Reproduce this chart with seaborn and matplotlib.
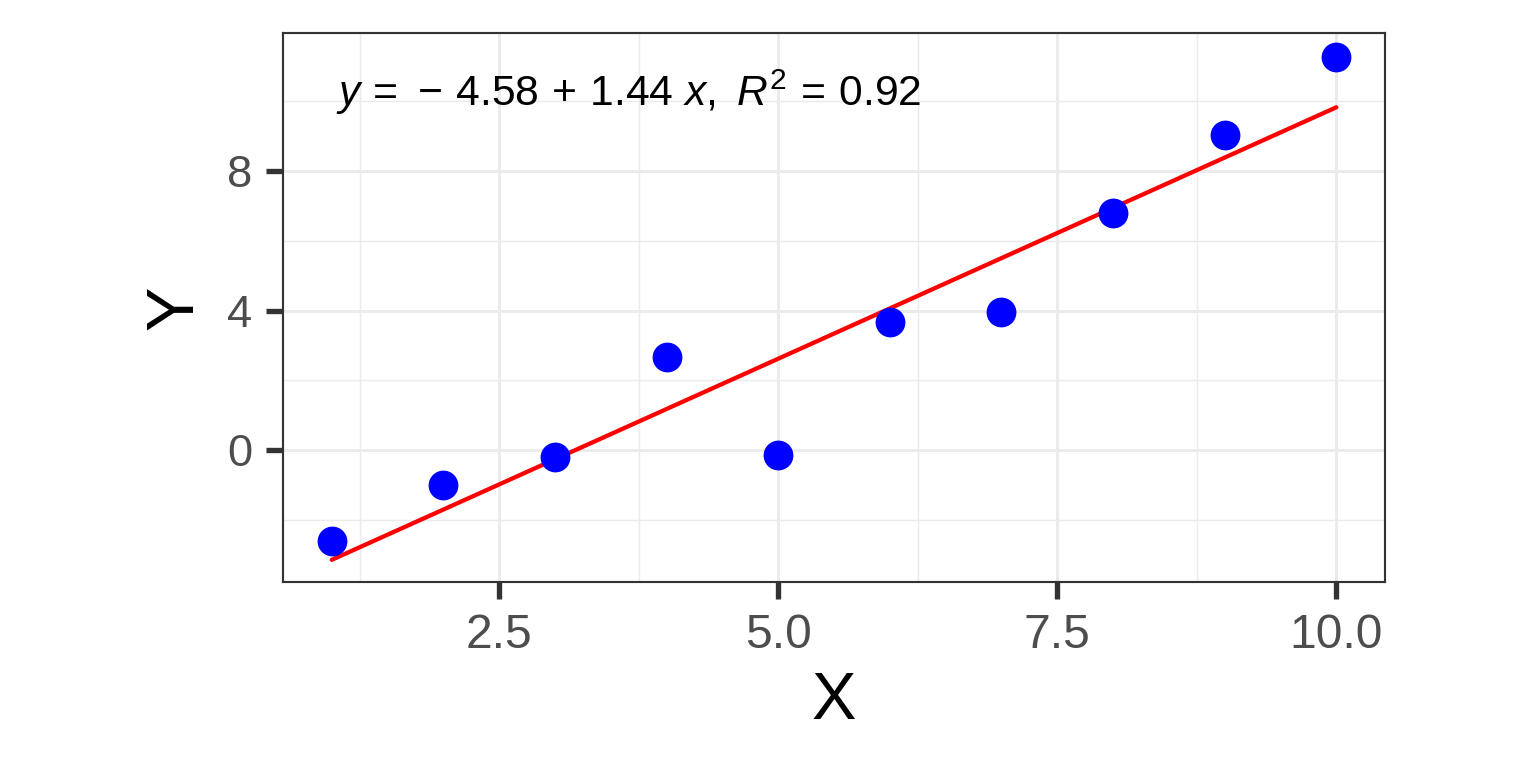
import numpy as np
import pandas as pd
import seaborn as sns
import matplotlib.pyplot as plt
from matplotlib.ticker import MultipleLocator

# values
x_vals = [1, 2, 3, 4, 5, 6, 7, 8, 9, 10]
y_vals = [-2.61, -1.0, -0.2, 2.66, -0.14, 3.67, 3.95, 6.79, 9.03, 11.26]
label_text = r"$y\,=\,-\,4.58\,+\,1.44\ x,\ R^2\,=\,0.92$"

df = pd.DataFrame({"X": x_vals, "Y": y_vals})

sns.set_style("white")
plt.rcParams["font.family"] = ["Liberation Sans", "DejaVu Sans"]
plt.rcParams["mathtext.fontset"] = "custom"
plt.rcParams["mathtext.rm"] = "Liberation Sans"
plt.rcParams["mathtext.it"] = "Liberation Sans:italic"

fig, ax = plt.subplots(figsize=(8, 4), dpi=192)
fig.subplots_adjust(left=0.184, right=0.902, top=0.957, bottom=0.242)

sns.regplot(data=df, x="X", y="Y", ci=None, ax=ax,
            scatter_kws=dict(color="blue", s=125, linewidths=0, alpha=1, zorder=3),
            line_kws=dict(color="red", lw=1.6, zorder=2))

ax.set_xlim(0.56, 10.44)
ax.set_ylim(-3.78, 11.95)
ax.xaxis.set_major_locator(MultipleLocator(2.5))
ax.xaxis.set_minor_locator(MultipleLocator(1.25))
ax.yaxis.set_major_locator(MultipleLocator(4))
ax.yaxis.set_minor_locator(MultipleLocator(2))
ax.xaxis.set_major_formatter(lambda v, p: f"{v:.1f}")

ax.grid(which="major", color="#EBEBEB", lw=1.1, zorder=0)
ax.grid(which="minor", color="#EBEBEB", lw=0.55, zorder=0)
ax.set_axisbelow(True)
for s in ax.spines.values():
    s.set_color("#333333")
    s.set_linewidth(0.8)

ax.tick_params(which="major", direction="out", length=6.5, width=2,
               color="#333333", labelcolor="#4D4D4D", bottom=True, left=True)
ax.tick_params(axis="x", labelsize=18, pad=5)
ax.tick_params(axis="y", labelsize=17, pad=5)
ax.tick_params(which="minor", length=0)

ax.set_xlabel("X", fontsize=25, labelpad=5, color="black")
ax.set_ylabel("Y", fontsize=25, labelpad=7.5, color="black")

ax.text(1.04, 10.26, label_text, fontsize=16, va="center", ha="left", color="black")

plt.savefig("out.png", dpi=192)
